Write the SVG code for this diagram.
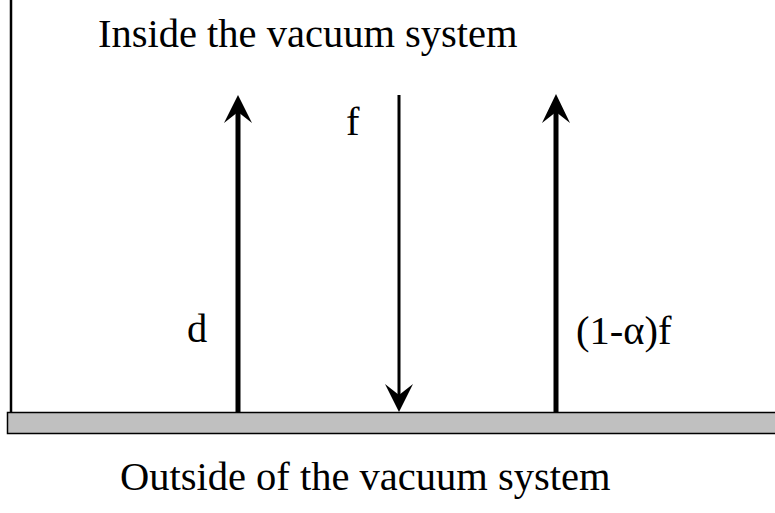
<svg xmlns="http://www.w3.org/2000/svg" width="775" height="513" viewBox="0 0 775 513">
<style>
text{font-family:"Liberation Serif","Times New Roman",serif;font-size:40.5px;fill:#000}
.thick{stroke:#000;stroke-width:5;fill:none}
.thin{stroke:#000;stroke-width:3;fill:none}
.head{fill:#000}
</style>
<rect width="775" height="513" fill="#fff"/>
<g id="wall">
<line x1="11" y1="0" x2="11" y2="412" stroke="#000" stroke-width="2.5"/>
<rect x="7.5" y="412.5" width="780" height="21" fill="#c0c0c0" stroke="#000" stroke-width="1.5"/>
</g>
<g id="connectors">
<line class="thick" x1="238" y1="412" x2="238" y2="110"/>
<path class="head" d="M238,95 L252,123 L238,112 L224,123 Z"/>
<line class="thin" x1="399" y1="95" x2="399" y2="398"/>
<path class="head" d="M399,412 L413,384 L399,395 L385,384 Z"/>
<line class="thick" x1="556" y1="412" x2="556" y2="110"/>
<path class="head" d="M556,94 L570,123 L556,112 L542,123 Z"/>
</g>
<g id="labels">
<text x="98" y="47">Inside the vacuum system</text>
<text x="120" y="490">Outside of the vacuum system</text>
<text x="187" y="342">d</text>
<text x="346" y="135">f</text>
<text x="576" y="344">(1-α)f</text>
</g>
</svg>
